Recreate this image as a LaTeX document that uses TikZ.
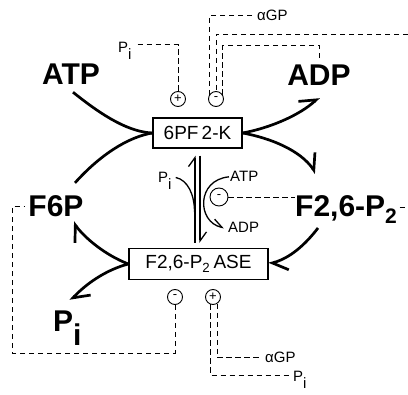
\documentclass[tikz,border=0pt]{standalone}
\usepackage{fontspec}
\setmainfont{Liberation Sans}
\usetikzlibrary{arrows.meta}
\tikzset{
  enz/.style={draw, line width=1.2pt, inner sep=0pt, font=\fontsize{19}{19}\selectfont},
  big/.style={inner sep=0pt, font=\fontsize{30}{30}\selectfont\bfseries},
  lbl/.style={inner sep=0pt, font=\fontsize{15}{15}\selectfont},
  eff/.style={circle, draw, line width=0.9pt, inner sep=0pt, minimum size=15pt, font=\fontsize{13}{13}\selectfont},
  flux/.style={line width=2.7pt},
  harp/.style={-{Straight Barb[harpoon, length=14pt, width=22pt]}},
  thin/.style={line width=1.3pt},
  tharp/.style={-{Straight Barb[harpoon, length=9pt, width=13pt]}},
  dsh/.style={line width=0.8pt, dash pattern=on 5.5pt off 3.5pt}}
\newcommand{\Pin}{P\raisebox{-0.45em}{i}}

\begin{document}
\begin{tikzpicture}[x=1pt,y=-1pt]
\useasboundingbox (0,0) rectangle (408,395);
\node[enz, minimum width=89pt, minimum height=30pt] (kin) at (197.5,133) {6PF\,2-K};
\node[enz, minimum width=139pt, minimum height=31pt] (ase) at (198.5,264) {F2,6-P\textsubscript{2}\,ASE};
\node[big, anchor=base] (atp) at (71,85) {ATP};
\node[big, anchor=base] (adp) at (319,86) {ADP};
\node[big, anchor=base] (f6p) at (56,217) {F6P};
\node[big, anchor=base west] (f26) at (295,217) {F2,6-P\textsubscript{2}};
\node[big, anchor=base west] (pibig) at (53,332) {\Pin};
\node[lbl, anchor=base west] (agpt) at (257,21) {αGP};
\node[lbl, anchor=base west] (pit) at (118,53) {\Pin};
\node[lbl, anchor=base west] (pim) at (158,183) {\Pin};
\node[lbl, anchor=base west] (atpm) at (230,182) {ATP};
\node[lbl, anchor=base west] (adpm) at (228,233) {ADP};
\node[lbl, anchor=base west] (agpb) at (265,363) {αGP};
\node[lbl, anchor=base west] (pib) at (293,382) {\Pin};
\node[eff] (kplus) at (178,99) {+};
\node[eff] (kminus) at (216,99) {-};
\node[eff, minimum size=18pt] (mminus) at (219,197) {-};
\node[eff] (aminus) at (175,297) {-};
\node[eff] (aplus) at (213,297) {+};
\coordinate (rim1) at (408,34);
\coordinate (rim2) at (408,207);
\coordinate (rim3) at (12,353);
\coordinate (pjoin) at (194.5,212);
% kinase side
\draw[flux] ([xshift=2pt,yshift=-7pt]atp.south) .. controls (105,118) and (130,132) .. (kin.west);
\draw[flux] ([xshift=19pt,yshift=13pt]f6p.north) .. controls (100,155) and (128,137) .. (kin.west);
\draw[flux, harp] (kin.east) .. controls (270,128) and (300,115) .. ([yshift=-11pt]adp.south);
\draw[flux, harp] (kin.east) .. controls (270,138) and (300,150) .. ([xshift=21pt,yshift=22.5pt]f26.north west);
% phosphatase side
\draw[flux, harp] ([xshift=23pt,yshift=-11pt]f26.base west) .. controls (305,245) and (290,258) .. (ase.east);
\draw[flux, harp] (ase.west) .. controls (105,255) and (85,238) .. ([xshift=17pt,yshift=-5pt]f6p.base);
\draw[flux, harp] (ase.west) .. controls (105,270) and (85,285) .. ([xshift=3pt,yshift=10.5pt]pibig.north);
% interconversion
\draw[thin, tharp] ([xshift=-3.5pt,yshift=5pt]ase.north) -- ([xshift=-2.5pt,yshift=-7pt]kin.south);
\draw[thin, tharp] ([xshift=2.5pt,yshift=-7pt]kin.south) -- ([xshift=1.5pt,yshift=5pt]ase.north);
\draw[thin] ([xshift=4pt,yshift=-5pt]pim.north east) .. controls (188,180) and (194.5,195) .. (pjoin);
\draw[thin, tharp] ([xshift=-1pt]atpm.west) .. controls (196,180) and (197,222) .. ([xshift=-4pt]adpm.west);
% effectors
\draw[dsh] ([xshift=6pt,yshift=-2pt]pit.north east) -| (kplus.north);
\draw[dsh] ([xshift=-5pt]agpt.west) -| (kminus.150);
\draw[dsh] (rim1) -| (kminus.north);
\draw[dsh] ([yshift=7pt]adp.north) -- ++(0,-13) -| (kminus.30);
\draw[dsh] (mminus.east) -- (f26.west |- mminus.east);
\draw[dsh] ([xshift=2pt]f26.east |- rim2) -- (rim2);
\draw[dsh] (aminus.south) |- (rim3) |- ([xshift=-3pt]f6p.west);
\draw[dsh] (aplus.-60) |- ([xshift=-4pt]agpb.west);
\draw[dsh] (aplus.-110) |- ([xshift=-4pt,yshift=5pt]pib.west);
\end{tikzpicture}
\end{document}
